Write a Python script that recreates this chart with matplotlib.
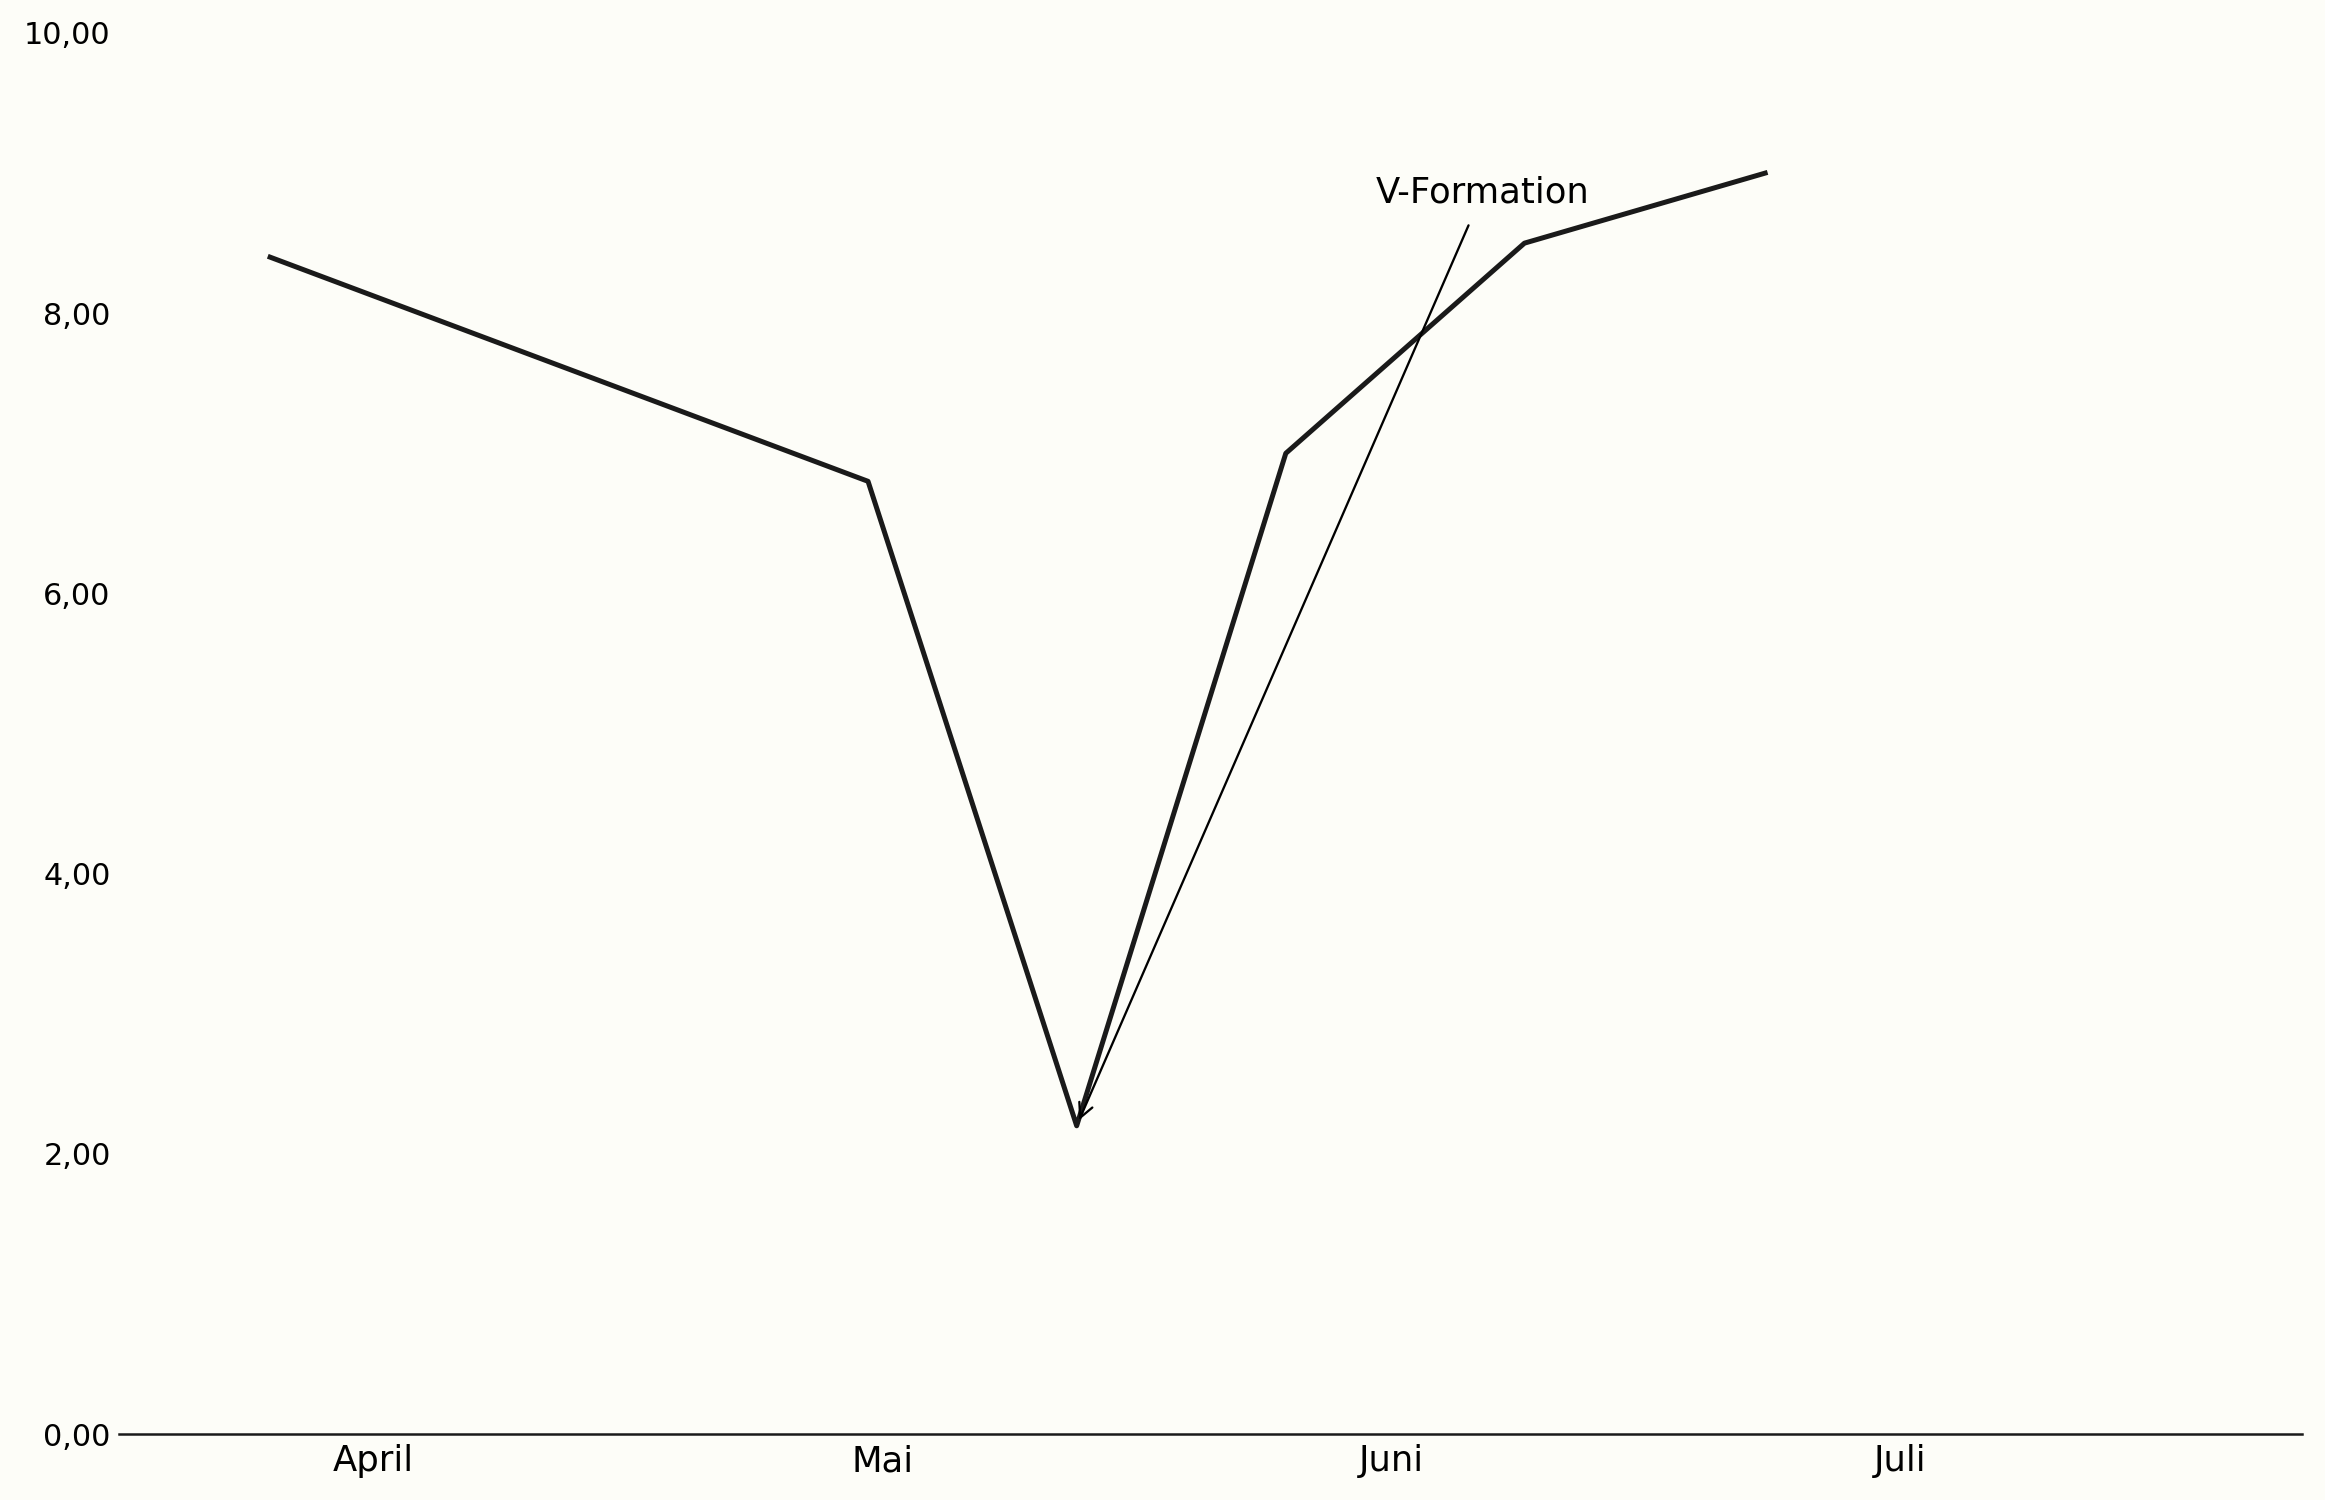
import matplotlib.pyplot as plt

# x in months relative to April (0 = April tick)
x_vals = [-0.203, 0.972, 1.382, 1.793, 2.262, 2.735]
y_vals = [8.4, 6.8, 2.2, 7.0, 8.5, 9.0]
month_pos = [0, 1, 2, 3]
month_labels = ["April", "Mai", "Juni", "Juli"]
y_ticks = [0, 2, 4, 6, 8, 10]

bg = "#fdfdf8"
ink = "#1a1a1a"

fig = plt.figure(figsize=(15.5, 10), dpi=150, facecolor=bg)
ax = fig.add_axes([119 / 2325, 1 - 1434 / 1500, (2302 - 119) / 2325, (1434 - 33) / 1500])
ax.set_facecolor(bg)

ax.plot(x_vals, y_vals, color=ink, lw=2.4)

ax.annotate("V-Formation", xy=(x_vals[2], y_vals[2]), xytext=(2.18, 8.86),
            ha="center", va="center", fontsize=17, color="black",
            arrowprops=dict(arrowstyle="->", color="black", lw=1.1,
                            shrinkA=6, shrinkB=3))

ax.set_xlim(-0.5, 3.79)
ax.set_ylim(0, 10)
ax.set_xticks(month_pos)
ax.set_xticklabels(month_labels, fontsize=17)
ax.set_yticks(y_ticks)
ax.set_yticklabels([f"{v:.2f}".replace(".", ",") for v in y_ticks], fontsize=14.5)
ax.tick_params(length=0)
ax.tick_params(axis="x", pad=5)
ax.tick_params(axis="y", pad=4)

for s in ["top", "right", "left"]:
    ax.spines[s].set_visible(False)
ax.spines["bottom"].set_color(ink)
ax.spines["bottom"].set_linewidth(1.2)

fig.savefig("out.png", dpi=150, facecolor=bg)
